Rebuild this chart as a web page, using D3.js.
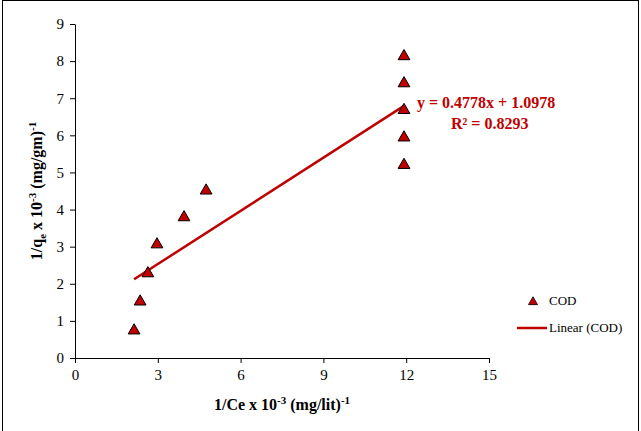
<!DOCTYPE html>
<html>
<head>
<meta charset="UTF-8">
<script src="https://d3js.org/d3.v7.min.js"></script>
<style>
  body { margin: 0; background: #fff; }
</style>
</head>
<body>
<svg id="chart" width="641" height="431"></svg>
<script>
    const xValues = [2.14, 2.36, 2.64, 2.97, 3.95, 4.75, 11.92, 11.92, 11.92, 11.92, 11.92];
    const yValues = [0.78, 1.56, 2.32, 3.10, 3.83, 4.55, 5.24, 5.98, 6.72, 7.44, 8.17];
    const xTicks = [0, 3, 6, 9, 12, 15];
    const yTicks = [0, 1, 2, 3, 4, 5, 6, 7, 8, 9];
    const slope = 0.4778, intercept = 1.0978;

    const FONT = "'Liberation Serif', 'Times New Roman', serif";
    const svg = d3.select("#chart").attr("font-family", FONT);
    const red = "#c00000";

    // outer frame
    svg.append("rect").attr("x", 2.5).attr("y", 0.5).attr("width", 636).attr("height", 440)
        .attr("fill", "none").attr("stroke", "#000").attr("stroke-width", 1);

    const x = d3.scaleLinear().domain([0, 15]).range([75, 489]);
    const y = d3.scaleLinear().domain([0, 9]).range([358, 24]);

    // axes
    svg.append("g").attr("transform", "translate(0,358)")
        .call(d3.axisBottom(x).tickValues(xTicks).tickSize(5).tickSizeOuter(0))
        .attr("font-family", FONT)
        .call(g => g.selectAll("text").attr("font-size", 15).attr("dy", "0.9em"))
        .call(g => g.selectAll("line,path").attr("stroke", "#000"));
    svg.append("g").attr("transform", "translate(75,0)")
        .call(d3.axisLeft(y).tickValues(yTicks).tickSize(5).tickSizeOuter(0))
        .attr("font-family", FONT)
        .call(g => g.selectAll("text").attr("font-size", 15).attr("dx", "-0.2em"))
        .call(g => g.selectAll("line,path").attr("stroke", "#000"));

    // trendline
    const x0 = d3.min(xValues), x1 = d3.max(xValues);
    svg.append("line")
        .attr("x1", x(x0)).attr("y1", y(slope * x0 + intercept))
        .attr("x2", x(x1)).attr("y2", y(slope * x1 + intercept))
        .attr("stroke", red).attr("stroke-width", 2.5);

    // points
    const tri = d3.symbol().type(d3.symbolTriangle).size(60);
    svg.selectAll(".pt").data(xValues).join("path")
        .attr("class", "pt")
        .attr("d", tri)
        .attr("transform", (d, i) => `translate(${x(d)},${y(yValues[i]) + 1.5})`)
        .attr("fill", red).attr("stroke", "#000").attr("stroke-width", 1);

    // equation
    svg.append("text").attr("x", 417).attr("y", 108).attr("fill", red)
        .attr("font-size", 16).attr("font-weight", "bold").text("y = 0.4778x + 1.0978");
    svg.append("text").attr("x", 451).attr("y", 129).attr("fill", red)
        .attr("font-size", 16).attr("font-weight", "bold").text("R² = 0.8293");

    // axis titles
    svg.append("text").attr("x", 282).attr("y", 410).attr("text-anchor", "middle")
        .attr("font-size", 16).attr("font-weight", "bold")
        .html('1/Ce x 10<tspan dy="-6" font-size="11">-3</tspan><tspan dy="6"> (mg/lit)</tspan><tspan dy="-6" font-size="11">-1</tspan>');
    svg.append("text").attr("transform", "translate(42,191) rotate(-90)").attr("text-anchor", "middle")
        .attr("font-size", 16).attr("font-weight", "bold")
        .html('1/q<tspan dy="4" font-size="11">e</tspan><tspan dy="-4"> x 10</tspan><tspan dy="-6" font-size="11">-3</tspan><tspan dy="6"> (mg/gm)</tspan><tspan dy="-6" font-size="11">-1</tspan>');

    // legend
    svg.append("path").attr("d", d3.symbol().type(d3.symbolTriangle).size(36))
        .attr("transform", "translate(533,302)").attr("fill", red).attr("stroke", "#000").attr("stroke-width", 0.8);
    svg.append("text").attr("x", 549).attr("y", 305).attr("font-size", 13).text("COD");
    svg.append("line").attr("x1", 517).attr("x2", 547).attr("y1", 328).attr("y2", 328)
        .attr("stroke", red).attr("stroke-width", 2.5);
    svg.append("text").attr("x", 549).attr("y", 332).attr("font-size", 13).text("Linear (COD)");
</script>
</body>
</html>
